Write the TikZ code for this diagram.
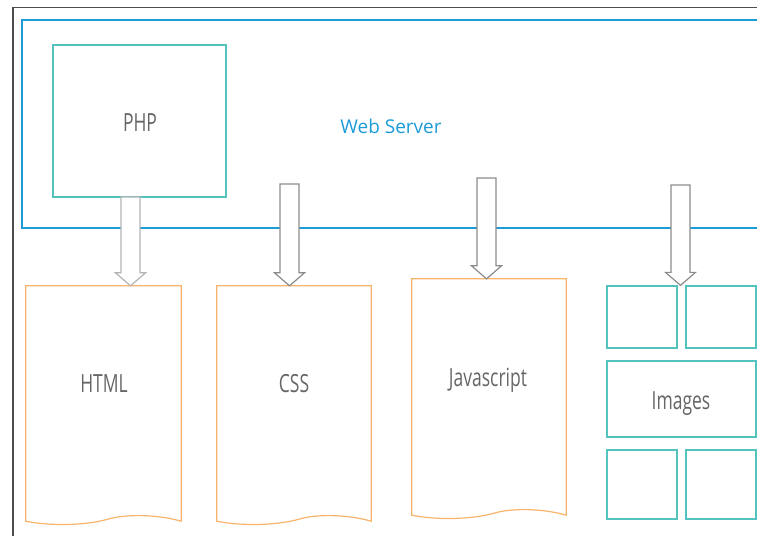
\documentclass[tikz,border=0pt]{standalone}
\usepackage{fontspec}
\usepackage{graphicx}
\setmainfont{Open Sans}
\usetikzlibrary{calc}
\definecolor{framegray}{HTML}{4D4D4D}
\definecolor{webblue}{HTML}{1C9BD7}
\definecolor{tealc}{HTML}{55C3BD}
\definecolor{docorange}{HTML}{F8B46C}
\definecolor{arrowgray}{HTML}{8C8C8C}
\definecolor{arrowlight}{HTML}{B4B4B4}
\definecolor{labelgray}{HTML}{666666}

% hollow block arrow from #2 straight down to the height of #3
\newcommand\blockarrow[3][]{%
  \draw[barrow,#1] let \p1=#2, \p2=#3 in
    (\x1-9.5pt,\y1) -- (\x1+9.5pt,\y1) -- (\x1+9.5pt,\y2+13pt) -- (\x1+15pt,\y2+13pt)
    -- (\x1,\y2) -- (\x1-15pt,\y2+13pt) -- (\x1-9.5pt,\y2+13pt) -- cycle;}

% page-like outline with a wavy bottom edge
\newcommand\docshape[1]{%
  \draw[docline] (#1.south west)
    .. controls +(25,5) and +(-24,7) .. ++(84,-2.5)
    .. controls +(16,-4.5) and +(-24,-7) .. (#1.south east)
    -- (#1.north east) -- (#1.north west) -- cycle;}

\newcommand\narrow[1]{\scalebox{0.7}[1]{#1}}

\begin{document}
\begin{tikzpicture}[x=1pt,y=-1pt,
  server/.style={draw=webblue,line width=1.3pt},
  tealbox/.style={draw=tealc,line width=1.3pt,inner sep=0pt},
  docbox/.style={inner sep=0pt,minimum height=235pt},
  docline/.style={draw=docorange,line width=1.2pt},
  lbl/.style={text=labelgray,inner sep=0pt,font=\fontsize{25}{25}\selectfont},
  barrow/.style={draw=arrowgray,fill=white,line width=1.2pt,line join=miter},
]
\useasboundingbox (0,0) rectangle (757,536);

% outer frame
\draw[framegray,line width=1.3pt] (13,536) -- (13,7.5) -- (757,7.5);

% web server region
\draw[server] (758,20) -- (22,20) -- (22,228) -- (758,228);
\node[text=webblue,font=\fontsize{19}{19}\selectfont] (web) at (391,126) {Web Server};

% PHP box
\node[tealbox,minimum width=173pt,minimum height=152pt] (php) at (139.5,121) {};
\node[lbl] (phplbl) at (140,123) {\narrow{PHP}};

% documents
\node[docbox,minimum width=155pt] (html) at (103.5,403.5) {};
\node[docbox,minimum width=154pt] (css) at (294,403.5) {};
\node[docbox,minimum width=154pt,minimum height=236pt] (js) at (489,397) {};
\docshape{html}
\docshape{css}
\docshape{js}
\node[lbl] (htmllbl) at (104,384) {\narrow{HTML}};
\node[lbl] (csslbl) at (294,384) {\narrow{CSS}};
\node[lbl] (jslbl) at (488,380) {\narrow{Javascript}};

% image tiles
\node[tealbox,minimum width=70pt,minimum height=62pt] (imgTL) at (642,317) {};
\node[tealbox,minimum width=70pt,minimum height=62pt] (imgTR) at (721,317) {};
\node[tealbox,minimum width=149pt,minimum height=76pt] (imgM) at (681.5,399) {};
\node[tealbox,minimum width=70pt,minimum height=69pt] (imgBL) at (642,484.5) {};
\node[tealbox,minimum width=70pt,minimum height=69pt] (imgBR) at (721,484.5) {};
\node[lbl] (imglbl) at (681,403.5) {\narrow{Images}};

% arrow start points
\coordinate (phpout) at (130.5,197);
\coordinate (cssin) at (289.5,184);
\coordinate (jsin) at (486.5,178);
\coordinate (imgin) at (680.5,185);

\blockarrow[draw=arrowlight]{(phpout)}{(phpout |- html.north)}
\blockarrow{(cssin)}{(cssin |- css.north)}
\blockarrow{(jsin)}{(jsin |- js.north)}
\blockarrow{(imgin)}{(imgin |- imgTL.north)}
\end{tikzpicture}
\end{document}
